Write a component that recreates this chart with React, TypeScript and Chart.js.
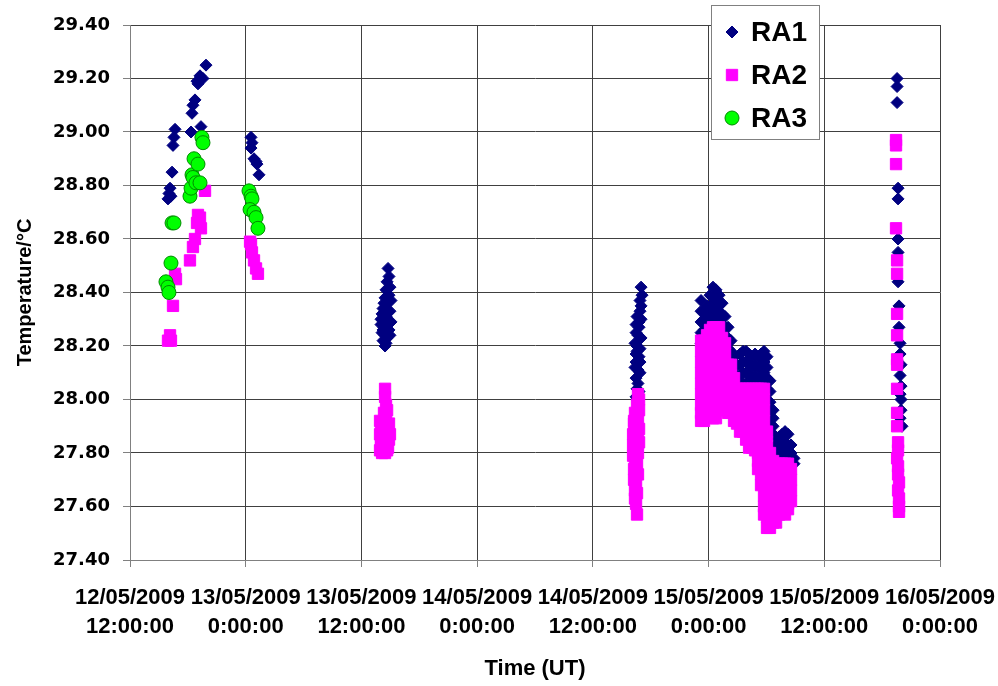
import React, { useEffect, useRef } from 'react';
import { Chart, registerables } from 'chart.js';
import { drawPoint } from 'chart.js/helpers';

Chart.register(...registerables);

// x values are hours after 12/05/2009 12:00:00 UT
const xTickLabels: string[][] = [
  ['12/05/2009', '12:00:00'],
  ['13/05/2009', '0:00:00'],
  ['13/05/2009', '12:00:00'],
  ['14/05/2009', '0:00:00'],
  ['14/05/2009', '12:00:00'],
  ['15/05/2009', '0:00:00'],
  ['15/05/2009', '12:00:00'],
  ['16/05/2009', '0:00:00'],
];

const seriesNames = ['RA1', 'RA2', 'RA3'];

// ---- RA1 ----
const ra1A: [number, number][] = [
  [3.94, 28.75], [4.04, 28.77], [4.15, 28.79], [4.25, 28.76], [4.36, 28.85], [4.46, 28.95],
  [4.56, 28.98], [4.67, 29.01], [6.33, 29.0], [6.43, 29.07], [6.53, 29.1], [6.74, 29.12],
  [6.95, 29.19], [7.05, 29.18], [7.26, 29.21], [7.36, 29.02], [7.57, 29.2], [7.88, 29.25],
];
const ra1B: [number, number][] = [
  [12.55, 28.98], [12.55, 28.94], [12.65, 28.96], [12.86, 28.9], [13.07, 28.89], [13.17, 28.88], [13.38, 28.84],
];
const ra1C: [number, number][] = [
  [26.76, 28.49], [26.86, 28.46], [26.66, 28.44], [26.96, 28.42], [26.55, 28.41], [26.86, 28.39],
  [26.45, 28.38], [27.07, 28.37], [26.66, 28.36], [26.24, 28.34], [26.96, 28.33], [26.14, 28.32],
  [26.03, 28.3], [26.55, 28.31], [27.07, 28.29], [26.03, 28.28], [26.34, 28.27], [26.86, 28.26],
  [26.14, 28.25], [26.45, 28.24], [26.66, 28.23], [26.24, 28.22], [26.55, 28.21], [26.45, 28.2],
  [26.34, 28.3], [26.76, 28.28], [26.24, 28.26], [26.96, 28.24], [26.34, 28.36], [26.55, 28.34],
];
const ra1D: [number, number][] = [
  [53.0, 28.42], [53.1, 28.39], [52.89, 28.37], [53.0, 28.35], [52.89, 28.33], [52.58, 28.31],
  [53.0, 28.3], [52.48, 28.28], [52.79, 28.27], [52.48, 28.25], [52.68, 28.24], [53.0, 28.23],
  [52.37, 28.21], [52.58, 28.2], [52.89, 28.19], [52.48, 28.17], [52.79, 28.16], [52.48, 28.14],
  [52.37, 28.12], [52.68, 28.11], [52.89, 28.1], [52.48, 28.08], [52.68, 28.06], [52.58, 28.04],
  [52.79, 28.03], [52.48, 28.01], [52.58, 28.0], [52.89, 28.14], [52.58, 28.18], [52.79, 28.29],
];
const ra1E: [number, number[]][] = [
  [59.22, [28.37, 28.33, 28.29, 28.25, 28.21]],
  [59.53, [28.33, 28.3, 28.26, 28.22]],
  [59.84, [28.35, 28.31, 28.27, 28.23]],
  [60.15, [28.39, 28.35, 28.31, 28.27, 28.24]],
  [60.46, [28.42, 28.38, 28.34, 28.3, 28.26]],
  [60.77, [28.41, 28.37, 28.33, 28.29, 28.25]],
  [61.09, [28.39, 28.35, 28.31, 28.27, 28.24]],
  [61.4, [28.36, 28.32, 28.28, 28.24, 28.2]],
  [61.71, [28.31, 28.27, 28.23, 28.19]],
  [62.02, [28.27, 28.23, 28.19, 28.15]],
  [62.33, [28.22, 28.18, 28.14, 28.1]],
  [62.64, [28.16, 28.12, 28.08, 28.05]],
  [62.95, [28.13, 28.09, 28.05]],
  [63.26, [28.17, 28.13, 28.09, 28.05]],
  [63.58, [28.18, 28.14, 28.1, 28.06]],
  [63.89, [28.18, 28.14, 28.1, 28.06]],
  [64.2, [28.17, 28.13, 28.09, 28.05]],
  [64.51, [28.16, 28.12, 28.08, 28.05]],
  [64.82, [28.17, 28.13, 28.09, 28.05]],
  [65.13, [28.16, 28.12, 28.08, 28.05]],
  [65.44, [28.17, 28.13, 28.09, 28.05]],
  [65.75, [28.18, 28.14, 28.1, 28.06, 28.02]],
  [66.06, [28.16, 28.12, 28.08, 28.04, 28.0, 27.96, 27.92]],
  [66.37, [28.07, 28.03, 27.99, 27.95, 27.91]],
  [66.69, [27.96, 27.93, 27.9, 27.87]],
  [67.0, [27.86, 27.83, 27.8]],
  [67.31, [27.86, 27.82, 27.79]],
  [67.62, [27.87, 27.83, 27.79]],
  [67.93, [27.88, 27.84, 27.8]],
  [68.24, [27.87, 27.83, 27.79]],
  [68.55, [27.83, 27.8, 27.77]],
  [68.86, [27.78, 27.76]],
];
const ra1F: [number, number][] = [
  [79.55, 29.2], [79.55, 29.17], [79.55, 29.11], [79.65, 28.79], [79.65, 28.75], [79.65, 28.6],
  [79.65, 28.55], [79.65, 28.44], [79.75, 28.35], [79.75, 28.27], [79.86, 28.21], [79.86, 28.17],
  [79.96, 28.13], [79.86, 28.09], [79.96, 28.05], [79.86, 28.02], [79.96, 28.0], [79.96, 27.96],
  [79.86, 27.93], [80.06, 27.9],
];

// ---- RA2 ----
const ra2A: [number, number][] = [
  [3.94, 28.22], [4.15, 28.24], [4.25, 28.22], [4.46, 28.35], [4.67, 28.47], [4.77, 28.45],
  [6.22, 28.52], [6.53, 28.57], [6.74, 28.6], [6.95, 28.66], [7.05, 28.69], [7.26, 28.68],
  [7.36, 28.64], [7.78, 28.78],
];
const ra2B: [number, number][] = [
  [12.45, 28.59], [12.55, 28.58], [12.65, 28.55], [12.86, 28.52], [13.07, 28.49], [13.27, 28.47],
];
const ra2C: [number, number][] = [
  [26.45, 28.04], [26.45, 28.01], [26.55, 27.98], [26.66, 27.96], [26.34, 27.95], [26.55, 27.93],
  [25.93, 27.92], [26.86, 27.91], [26.03, 27.89], [26.24, 27.9], [26.66, 27.88], [25.93, 27.87],
  [26.14, 27.86], [26.86, 27.85], [26.03, 27.84], [26.34, 27.83], [26.76, 27.82], [25.93, 27.81],
  [26.45, 27.8], [26.14, 27.8], [26.66, 27.81], [26.34, 27.85], [26.96, 27.87], [26.03, 27.83],
  [26.45, 27.88], [26.55, 27.83],
];
const ra2D: [number, number][] = [
  [52.68, 28.02], [52.79, 28.0], [52.58, 27.98], [52.79, 27.96], [52.37, 27.95], [52.68, 27.93],
  [52.27, 27.91], [52.58, 27.9], [52.79, 27.89], [52.17, 27.87], [52.37, 27.86], [52.68, 27.85],
  [52.17, 27.83], [52.48, 27.82], [52.68, 27.8], [52.17, 27.79], [52.37, 27.78], [52.58, 27.76],
  [52.27, 27.74], [52.48, 27.73], [52.68, 27.72], [52.27, 27.7], [52.48, 27.68], [52.37, 27.66],
  [52.58, 27.65], [52.37, 27.63], [52.48, 27.61], [52.58, 27.57], [52.79, 27.84], [52.27, 27.92],
];
const ra2E: [number, number[]][] = [
  [59.22, [28.22, 28.18, 28.14, 28.1, 28.06, 28.02, 27.98, 27.95, 27.92]],
  [59.53, [28.22, 28.18, 28.14, 28.1, 28.06, 28.02, 27.98, 27.95, 27.92]],
  [59.84, [28.24, 28.2, 28.16, 28.12, 28.08, 28.04, 28.0]],
  [60.15, [28.26, 28.22, 28.18, 28.14, 28.1, 28.06, 28.02, 27.98, 27.94]],
  [60.46, [28.27, 28.23, 28.19, 28.15, 28.11, 28.07, 28.03, 27.99, 27.96, 27.93]],
  [60.77, [28.27, 28.23, 28.19, 28.15, 28.11, 28.07, 28.03, 27.99, 27.96, 27.93]],
  [61.09, [28.27, 28.23, 28.19, 28.15, 28.11, 28.07, 28.03, 27.99, 27.96]],
  [61.4, [28.23, 28.19, 28.15, 28.11, 28.07, 28.03, 27.99, 27.96]],
  [61.71, [28.21, 28.17, 28.13, 28.09, 28.05, 28.01, 27.97]],
  [62.02, [28.13, 28.09, 28.05, 28.01, 27.97, 27.95]],
  [62.33, [28.13, 28.09, 28.05, 28.01, 27.97, 27.95]],
  [62.64, [28.08, 28.04, 28.0, 27.96, 27.92]],
  [62.95, [28.04, 28.0, 27.96, 27.91]],
  [63.26, [28.04, 28.0, 27.96, 27.92, 27.88]],
  [63.58, [28.04, 28.0, 27.96, 27.92, 27.88]],
  [63.89, [28.04, 28.0, 27.96, 27.92, 27.88, 27.85]],
  [64.2, [28.04, 28.0, 27.96, 27.92, 27.88, 27.85, 27.82]],
  [64.51, [28.04, 28.0, 27.96, 27.92, 27.88, 27.85, 27.82]],
  [64.82, [28.04, 28.0, 27.96, 27.92, 27.88, 27.84, 27.81]],
  [65.13, [28.04, 28.0, 27.96, 27.92, 27.88, 27.84, 27.8, 27.77, 27.74]],
  [65.44, [28.04, 28.0, 27.96, 27.92, 27.88, 27.84, 27.8, 27.76, 27.72, 27.68]],
  [65.75, [28.04, 28.0, 27.96, 27.92, 27.88, 27.84, 27.8, 27.76, 27.72, 27.68, 27.64, 27.6, 27.57]],
  [66.06, [27.88, 27.84, 27.8, 27.76, 27.72, 27.68, 27.64, 27.6, 27.56, 27.52]],
  [66.37, [27.8, 27.76, 27.72, 27.68, 27.64, 27.6, 27.56, 27.52]],
  [66.69, [27.77, 27.73, 27.69, 27.65, 27.61, 27.57, 27.54]],
  [67.0, [27.76, 27.72, 27.68, 27.64, 27.6, 27.57, 27.54]],
  [67.31, [27.76, 27.72, 27.68, 27.64, 27.6, 27.57]],
  [67.62, [27.76, 27.72, 27.68, 27.64, 27.61, 27.59]],
  [67.93, [27.76, 27.72, 27.68, 27.64, 27.6, 27.57]],
  [68.24, [27.76, 27.72, 27.68, 27.64, 27.61, 27.59]],
  [68.55, [27.74, 27.7, 27.66, 27.62]],
];
const ra2F: [number, number][] = [
  [79.44, 28.97], [79.44, 28.95], [79.44, 28.88], [79.44, 28.64], [79.55, 28.52], [79.55, 28.47],
  [79.55, 28.32], [79.55, 28.24], [79.55, 28.15], [79.55, 28.13], [79.55, 28.04], [79.55, 27.95],
  [79.55, 27.9], [79.65, 27.84], [79.65, 27.81], [79.55, 27.78], [79.65, 27.75], [79.65, 27.72],
  [79.75, 27.69], [79.65, 27.66], [79.75, 27.63], [79.75, 27.6], [79.75, 27.58],
];

// ---- RA3 ----
const ra3A: [number, number][] = [
  [3.73, 28.44], [3.94, 28.42], [4.04, 28.4], [4.25, 28.51], [4.36, 28.66], [4.56, 28.66],
  [6.22, 28.76], [6.33, 28.79], [6.43, 28.84], [6.53, 28.83], [6.64, 28.9], [6.84, 28.81],
  [7.05, 28.88], [7.26, 28.81], [7.46, 28.98], [7.57, 28.96],
];
const ra3B: [number, number][] = [
  [12.34, 28.78], [12.55, 28.76], [12.65, 28.75], [12.45, 28.71], [12.86, 28.7], [13.07, 28.68], [13.27, 28.64],
];

const toXY = (pairs: [number, number][]) => pairs.map(([x, y]) => ({ x, y }));
const colsToXY = (cols: [number, number[]][]) =>
  cols.flatMap(([x, vals]) => vals.map((y) => ({ x, y })));

const ARIAL = "'Liberation Sans', Arial, sans-serif";
const VERDANA = "'DejaVu Sans', Verdana, sans-serif";

const boxLegend = {
  id: 'boxLegend',
  afterDraw(chart: any) {
    const ctx = chart.ctx as CanvasRenderingContext2D;
    ctx.save();
    ctx.fillStyle = '#ffffff';
    ctx.strokeStyle = '#808080';
    ctx.lineWidth = 1;
    ctx.fillRect(711.5, 5.5, 108, 134);
    ctx.strokeRect(711.5, 5.5, 108, 134);
    const dsets = chart.data.datasets;
    dsets.forEach((ds: any, i: number) => {
      const cy = 32 + i * 43;
      ctx.fillStyle = ds.backgroundColor;
      ctx.strokeStyle = ds.borderColor;
      ctx.lineWidth = ds.borderWidth;
      drawPoint(ctx, { pointStyle: ds.pointStyle, radius: ds.pointRadius, rotation: 0, borderWidth: ds.borderWidth } as any, 732, cy);
      ctx.fillStyle = '#000000';
      ctx.font = `bold 28px ${ARIAL}`;
      ctx.textAlign = 'left';
      ctx.textBaseline = 'middle';
      ctx.fillText(ds.label, 751, cy + 1);
    });
    ctx.restore();
  },
};

export default function App() {
  const ref = useRef<HTMLCanvasElement>(null);
  useEffect(() => {
    if (!ref.current) return;
    const chart = new Chart(ref.current, {
      type: 'scatter',
      data: {
        datasets: [
          {
            label: seriesNames[0],
            data: [...toXY(ra1A), ...toXY(ra1B), ...toXY(ra1C), ...toXY(ra1D), ...colsToXY(ra1E), ...toXY(ra1F)],
            pointStyle: 'rectRot',
            pointRadius: 6,
            backgroundColor: '#000080',
            borderColor: '#000080',
            borderWidth: 1,
            order: 3,
          },
          {
            label: seriesNames[1],
            data: [...toXY(ra2A), ...toXY(ra2B), ...toXY(ra2C), ...toXY(ra2D), ...colsToXY(ra2E), ...toXY(ra2F)],
            pointStyle: 'rect',
            pointRadius: 8,
            backgroundColor: '#ff00ff',
            borderColor: '#ff00ff',
            borderWidth: 1,
            order: 2,
          },
          {
            label: seriesNames[2],
            data: [...toXY(ra3A), ...toXY(ra3B)],
            pointStyle: 'circle',
            pointRadius: 7,
            backgroundColor: '#00ff00',
            borderColor: '#008a00',
            borderWidth: 1,
            order: 1,
          },
        ],
      },
      options: {
        animation: false,
        responsive: false,
        maintainAspectRatio: false,
        devicePixelRatio: 1,
        events: [],
        layout: { padding: { top: 25, right: 58, left: 0, bottom: 0 } },
        plugins: { legend: { display: false }, tooltip: { enabled: false } },
        scales: {
          x: {
            type: 'linear',
            min: 0,
            max: 84,
            afterFit: (s: any) => { s.height = 126; s.paddingLeft = 0; s.paddingRight = 0; },
            ticks: {
              stepSize: 12,
              autoSkip: false,
              maxRotation: 0,
              minRotation: 0,
              padding: 16,
              color: '#000000',
              font: { family: ARIAL, size: 22, weight: 'bold', lineHeight: 1.32 },
              callback: (v: any) => xTickLabels[Math.round(Number(v) / 12)] ?? '',
            },
            grid: { color: '#404040', tickColor: '#808080', tickLength: 7, lineWidth: 1 },
            border: { display: true, color: '#808080', width: 1 },
            title: {
              display: true,
              text: 'Time (UT)',
              color: '#000000',
              font: { family: ARIAL, size: 22, weight: 'bold' },
              padding: { top: 0, bottom: 4 },
            },
          },
          y: {
            type: 'linear',
            min: 27.4,
            max: 29.4,
            afterFit: (s: any) => { s.width = 130; s.paddingTop = 0; s.paddingBottom = 0; },
            ticks: {
              stepSize: 0.2,
              padding: 13,
              color: '#000000',
              font: { family: VERDANA, size: 18, weight: 'bold' },
              callback: (v: any) => Number(v).toFixed(2),
            },
            grid: { color: '#404040', tickColor: '#808080', tickLength: 7, lineWidth: 1 },
            border: { display: true, color: '#808080', width: 1 },
            title: {
              display: true,
              text: 'Temperature/°C',
              color: '#000000',
              font: { family: ARIAL, size: 20, weight: 'bold' },
              padding: { top: 13, bottom: 0 },
            },
          },
        },
      },
      plugins: [boxLegend],
    } as any);
    return () => chart.destroy();
  }, []);
  return (
    <div style={{ position: 'fixed', left: 0, top: 0, width: 998, height: 686, background: '#ffffff' }}>
      <canvas ref={ref} width={998} height={686} style={{ width: 998, height: 686, display: 'block' }} />
    </div>
  );
}
